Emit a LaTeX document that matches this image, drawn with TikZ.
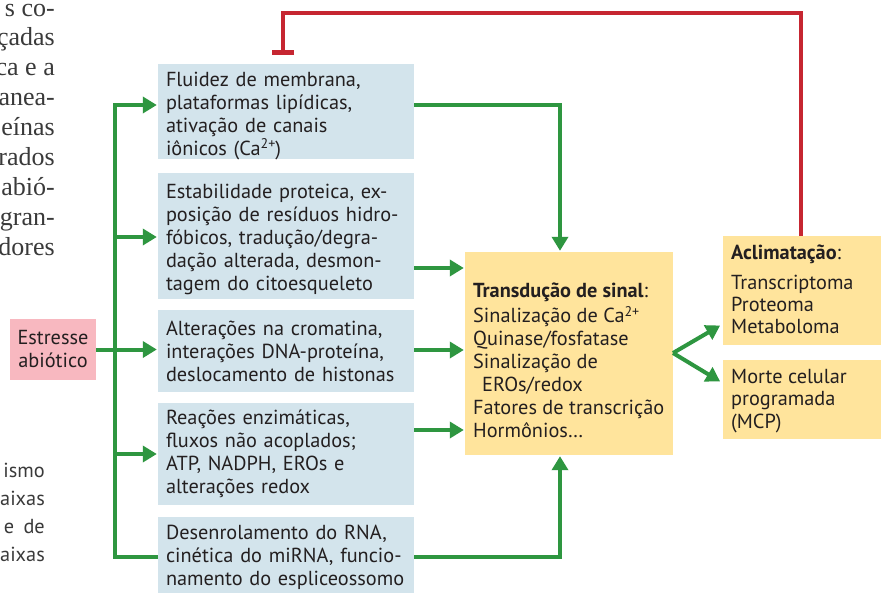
\documentclass[tikz,border=0pt]{standalone}
\usepackage{fontspec}
\setmainfont{PT Sans}
\newfontfamily\pageserif{Liberation Serif}
\usetikzlibrary{arrows.meta}
\definecolor{boxblue}{HTML}{D3E4EC}
\definecolor{boxpink}{HTML}{F8B8C0}
\definecolor{boxyellow}{HTML}{FFE49C}
\definecolor{arrgreen}{HTML}{2E9640}
\definecolor{barred}{HTML}{C62631}
\definecolor{txt}{HTML}{231F20}
\definecolor{pagetxt}{HTML}{3A3A3A}
\newcommand{\firstup}[1]{\rule{0pt}{#1}}
\newcommand{\supx}[1]{\raisebox{0.6ex}{\fontsize{14}{14}\selectfont #1}}
\tikzset{
  diagfont/.style={font=\fontsize{20.3}{23}\selectfont, text=txt},
  bluebox/.style={diagfont, fill=boxblue, inner xsep=8pt, inner ysep=0pt, text width=240pt, align=left, minimum height=#1},
  plainbox/.style={fill=#1, inner sep=0pt, draw=none},
  boxtext/.style={diagfont, inner sep=0pt, align=left, anchor=north west},
  gline/.style={draw=arrgreen, line width=4pt},
  garrow/.style={gline, -{Triangle[length=14pt,width=16pt]}, shorten >=1pt},
  rline/.style={draw=barred, line width=4pt},
  pageline/.style={font={\pageserif\fontsize{26}{30}\selectfont}, text=pagetxt, inner sep=0pt, anchor=base east},
  pagesans/.style={font={\fontsize{20.3}{28}\selectfont}, text=pagetxt, inner sep=0pt, anchor=base east}
}
\begin{document}
\begin{tikzpicture}[x=1pt,y=-1pt]
\useasboundingbox (0,0) rectangle (881,592);
\fill[white] (0,0) rectangle (881,592);

% page fragments on the left
\node[pageline] (p1) at (55,16) {s co-};
\node[pageline] (p2) at (55,45) {çadas};
\node[pageline] (p3) at (55,75) {ca e a};
\node[pageline] (p4) at (55,105) {anea-};
\node[pageline] (p5) at (55,135) {eínas};
\node[pageline] (p6) at (55,165) {rados};
\node[pageline] (p7) at (55,195) {abió-};
\node[pageline] (p8) at (55,225) {gran-};
\node[pageline] (p9) at (55,255) {dores};
\node[pagesans] (q1) at (45,477) {ismo};
\node[pagesans] (q2) at (45,505) {aixas};
\node[pagesans] (q3) at (45,533) {e\hspace{4pt} de};
\node[pagesans] (q4) at (45,561) {aixas};

% blue boxes
\node[bluebox=93pt] (b1) at (286,111.5) {\firstup{22.5pt}Fluidez de membrana,\\plataformas lipídicas,\\ativação de canais\\iônicos (Ca\supx{2+})};
\node[bluebox=126pt] (b2) at (286,236) {\firstup{20.5pt}Estabilidade proteica, ex-\\posição de resíduos hidro-\\fóbicos, tradução/degra-\\dação alterada, desmon-\\tagem do citoesqueleto};
\node[bluebox=82pt] (b3) at (286,351) {Alterações na cromatina,\\interações DNA-proteína,\\deslocamento de histonas};
\node[bluebox=102pt] (b4) at (286,454) {Reações enzimáticas,\\fluxos não acoplados;\\ATP, NADPH, EROs e\\alterações redox};
\node[bluebox=80pt] (b5) at (286,557) {Desenrolamento do RNA,\\cinética do miRNA, funcio-\\namento do espliceossomo};

% stress box
\node[diagfont, fill=boxpink, minimum width=86pt, minimum height=61pt, inner sep=0pt, align=center] (st) at (53,349.5) {Estresse\\abiótico};

% yellow boxes
\node[plainbox=boxyellow, minimum width=208pt, minimum height=203pt] (T) at (569,353.5) {};
\node[boxtext] (Tt) at (473,283) {\textbf{Transdução de sinal}:\\[2pt]Sinalização de Ca\supx{2+}\\Quinase/fosfatase\\Sinalização de\\\hspace*{9pt}EROs/redox\\Fatores de transcrição\\Hormônios…};
\node[plainbox=boxyellow, minimum width=158pt, minimum height=109pt] (A) at (802,290.5) {};
\node[boxtext, font=\fontsize{20.3}{22}\selectfont] (At) at (731,245) {\textbf{Aclimatação}:\\[8pt]Transcriptoma\\Proteoma\\Metaboloma};
\node[plainbox=boxyellow, minimum width=158pt, minimum height=79pt] (M) at (802,399.5) {};
\node[boxtext, font=\fontsize{20.3}{22.5}\selectfont] (Mt) at (731,369) {Morte celular\\programada\\(MCP)};

% left green distribution
\coordinate (L1) at (115,105);
\coordinate (L2) at (115,237);
\coordinate (L4) at (115,454);
\coordinate (L5) at (115,557);
\draw[garrow] (L5 -| b5.west) -- (L5) -- (L1) -- (L1 -| b1.west);
\draw[garrow] (L2) -- (L2 -| b2.west);
\draw[garrow] (st.east) -- (st.east -| b3.west);
\draw[garrow] (L4) -- (L4 -| b4.west);

% right green connections
\coordinate (R1) at (560,105);
\coordinate (R2) at (414,268);
\coordinate (R3) at (414,350);
\coordinate (R4) at (414,430);
\coordinate (R5) at (560,557);
\draw[garrow] (R1 -| b1.east) -- (R1) -- (R1 |- T.north);
\draw[garrow] (R2) -- (R2 -| T.west);
\draw[garrow] (R3) -- (R3 -| T.west);
\draw[garrow] (R4) -- (R4 -| T.west);
\draw[garrow] (R5 -| b5.east) -- (R5) -- (R5 |- T.south);

% split arrows
\coordinate (S0) at (673,353);
\coordinate (SA) at (721,325);
\coordinate (SM) at (721,382);
\draw[garrow] (S0) -- (SA);
\draw[garrow] (S0) -- (SM);

% red inhibition feedback
\coordinate (r1) at (801,13);
\coordinate (r2) at (283,13);
\coordinate (r3) at (283,55);
\draw[rline, -{Bar[width=22pt,line width=5pt]}] (r1 |- A.north) -- (r1) -- (r2) -- (r3);
\end{tikzpicture}
\end{document}
